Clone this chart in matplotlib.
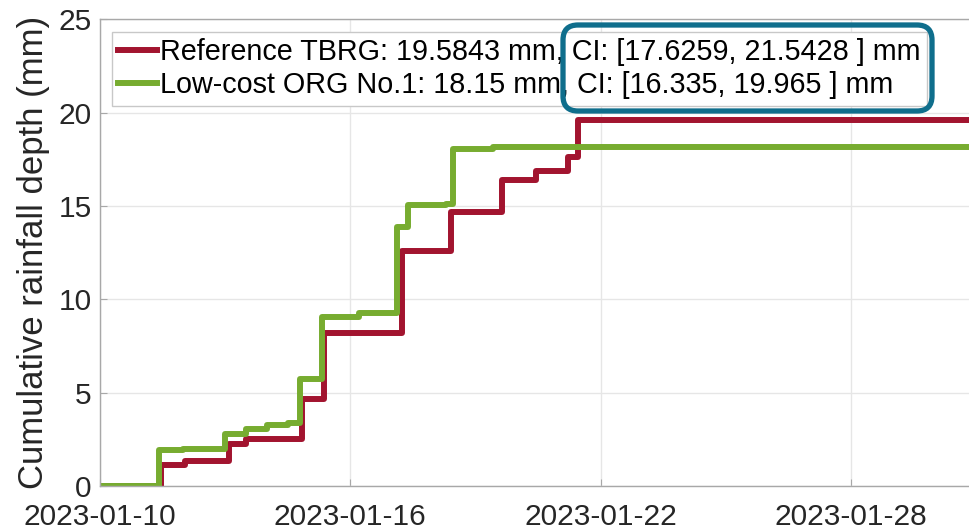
import matplotlib
matplotlib.use('Agg')
import matplotlib.pyplot as plt
import matplotlib.dates as mdates
from matplotlib.patches import FancyBboxPatch
from matplotlib.transforms import IdentityTransform
import pandas as pd

plt.rcParams['font.family'] = ['Liberation Sans', 'DejaVu Sans']

# Reference tipping-bucket gauge (cumulative mm)
ref_time = ['2023-01-10 00:00', '2023-01-11 11:00', '2023-01-12 01:00', '2023-01-13 02:00',
            '2023-01-13 12:00', '2023-01-14 20:00', '2023-01-15 09:00', '2023-01-17 06:00',
            '2023-01-18 10:00', '2023-01-19 15:00', '2023-01-20 11:00', '2023-01-21 05:00',
            '2023-01-21 11:00', '2023-01-31 00:00']
ref_depth = [0, 1.1, 1.35, 2.25, 2.5, 4.67, 8.17, 12.57, 14.67, 16.4, 16.88, 17.6, 19.5843, 19.5843]

# Low-cost optical gauge No.1
org_time = ['2023-01-10 00:00', '2023-01-11 10:00', '2023-01-12 00:00', '2023-01-13 00:00',
            '2023-01-13 12:00', '2023-01-14 00:00', '2023-01-14 12:00', '2023-01-14 19:00',
            '2023-01-15 08:00', '2023-01-16 05:00', '2023-01-17 03:00', '2023-01-17 09:00',
            '2023-01-18 07:00', '2023-01-18 11:00', '2023-01-19 10:00', '2023-01-31 00:00']
org_depth = [0, 1.95, 2.0, 2.78, 3.05, 3.29, 3.35, 5.75, 9.07, 9.25, 13.9, 15.03, 15.1, 18.05, 18.15, 18.15]

ref_label = 'Reference TBRG: 19.5843 mm, CI: [17.6259, 21.5428 ] mm'
org_label = 'Low-cost ORG No.1: 18.15 mm, CI: [16.335, 19.965 ] mm'

red = '#A2142F'
green = '#77AC30'

fig = plt.figure(figsize=(9.69, 5.32), dpi=100)
fig.patch.set_facecolor('white')
ax = fig.add_axes([100/969, 46/532, 876/969, 466.7/532])

ax.plot(pd.to_datetime(ref_time), ref_depth, drawstyle='steps-post', color=red, linewidth=4.3, label=ref_label)
ax.plot(pd.to_datetime(org_time), org_depth, drawstyle='steps-post', color=green, linewidth=4.3, label=org_label)

ax.set_xlim(pd.Timestamp('2023-01-10'), pd.Timestamp('2023-01-31'))
ax.set_ylim(0, 25)
ax.set_yticks([0, 5, 10, 15, 20, 25])
ax.set_xticks(pd.to_datetime(['2023-01-10', '2023-01-16', '2023-01-22', '2023-01-28']))
ax.xaxis.set_major_formatter(mdates.DateFormatter('%Y-%m-%d'))

ax.grid(True, color='#E6E6E6', linewidth=1.0)
ax.set_axisbelow(True)
for s in ax.spines.values():
    s.set_color('#A8A8A8')
    s.set_linewidth(1.0)
ax.tick_params(direction='in', colors='#A8A8A8', labelcolor='#262626', labelsize=21.5, length=5)
ax.tick_params(axis='x', pad=12)
ax.tick_params(axis='y', pad=6)
ax.set_ylabel('Cumulative rainfall depth (mm)', fontsize=25, color='#262626', labelpad=6)

leg = ax.legend(loc='upper left', bbox_to_anchor=(0.0134, 0.9735), fontsize=20.7, frameon=True,
                fancybox=False, edgecolor='#C8C8C8', framealpha=1, handlelength=1.35,
                handletextpad=0.12, borderpad=0.22, labelspacing=0.19, borderaxespad=0)
leg.get_frame().set_linewidth(1.0)

# highlight box around the confidence intervals
box = FancyBboxPatch((563, 532 - 111), 369, 86, boxstyle='round,pad=0,rounding_size=15',
                     transform=IdentityTransform(), fill=False, edgecolor='#0F6E8C', linewidth=3.8,
                     zorder=10)
fig.patches.append(box)

plt.savefig('out.png', dpi=100, facecolor='white')
